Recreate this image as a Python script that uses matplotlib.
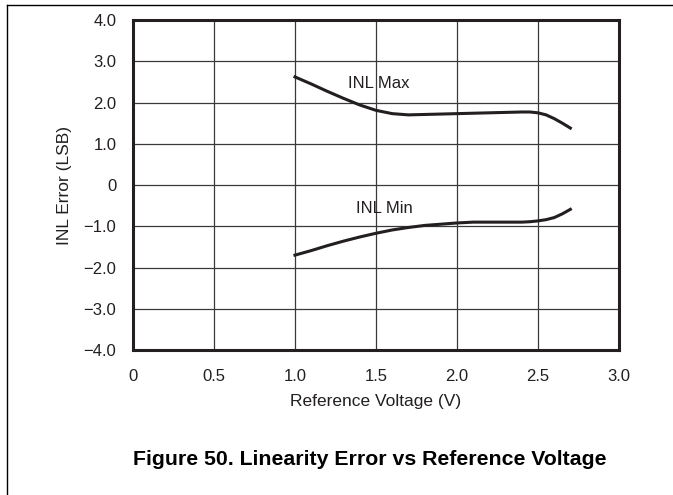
#! /usr/bin/env python3
# coding: utf-8

import matplotlib.pyplot as plt
from matplotlib.lines import Line2D

####
# les donnees
####

tension_ref = [1.0, 1.1, 1.2, 1.3, 1.4, 1.5, 1.6, 1.7, 1.8, 1.9, 2.0,
               2.1, 2.2, 2.3, 2.4, 2.45, 2.5, 2.55, 2.6, 2.65, 2.7]
inl_max = [2.62, 2.45, 2.27, 2.10, 1.94, 1.81, 1.73, 1.70, 1.71, 1.72, 1.73,
           1.74, 1.75, 1.76, 1.77, 1.77, 1.75, 1.70, 1.61, 1.50, 1.38]
inl_min = [-1.70, -1.59, -1.47, -1.36, -1.26, -1.17, -1.09, -1.03, -0.98, -0.95, -0.92,
           -0.90, -0.90, -0.90, -0.90, -0.89, -0.87, -0.84, -0.79, -0.70, -0.59]

x_ticks = [0, 0.5, 1.0, 1.5, 2.0, 2.5, 3.0]
x_labels = ["0", "0.5", "1.0", "1.5", "2.0", "2.5", "3.0"]
y_ticks = [-4, -3, -2, -1, 0, 1, 2, 3, 4]
y_labels = ["\u22124.0", "\u22123.0", "\u22122.0", "\u22121.0", "0", "1.0", "2.0", "3.0", "4.0"]

####
# le graphique
####

def tracer():
	plt.rcParams['font.family'] = ['Liberation Sans', 'DejaVu Sans']
	noir = "#231f20"

	fig = plt.figure(figsize=(6.73, 4.95), dpi=100)
	ax = fig.add_axes([0.1976, 0.2929, 0.7221, 0.6667])

	ax.plot(tension_ref, inl_max, color=noir, lw=2.2)
	ax.plot(tension_ref, inl_min, color=noir, lw=2.2)

	ax.text(1.52, 2.45, "INL Max", fontsize=12, color=noir, ha="center", va="center")
	ax.text(1.55, -0.57, "INL Min", fontsize=12, color=noir, ha="center", va="center")

	ax.set_xlim(0, 3.0)
	ax.set_ylim(-4, 4)
	ax.set_xticks(x_ticks)
	ax.set_xticklabels(x_labels)
	ax.set_yticks(y_ticks)
	ax.set_yticklabels(y_labels)
	ax.tick_params(length=0, labelsize=12, labelcolor=noir)
	ax.tick_params(axis="x", pad=14)
	ax.tick_params(axis="y", pad=12)
	ax.grid(True, color="#3a3a3a", lw=0.9)
	ax.set_axisbelow(True)
	for cote in ax.spines.values():
		cote.set_linewidth(2.2)
		cote.set_color(noir)

	ax.set_xlabel("Reference Voltage (V)", fontsize=12.5, color=noir, labelpad=7)
	ax.set_ylabel("INL Error (LSB)", fontsize=12.5, color=noir, labelpad=8)

	fig.text(0.549, 0.071, "Figure 50. Linearity Error vs Reference Voltage",
	         fontsize=15.3, fontweight="bold", color="black", ha="center", va="center")

	# le cadre de la page (haut et gauche)
	fig.add_artist(Line2D([0.011, 1.0], [0.990, 0.990], color="black", lw=1.0))
	fig.add_artist(Line2D([0.011, 0.011], [0.0, 0.990], color="black", lw=1.0))

	fig.savefig("out.png", dpi=100)


def main():
	tracer()

if __name__ == "__main__":
	main()
